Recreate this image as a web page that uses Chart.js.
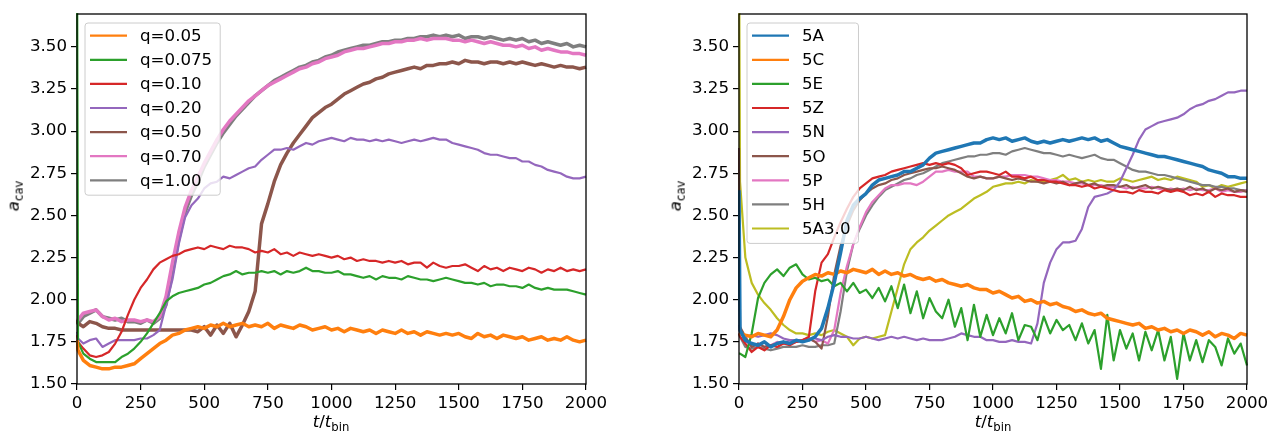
<!DOCTYPE html>
<html lang="en">
<head>
<meta charset="UTF-8" />
<title>Cavity size vs time</title>
<script src="https://cdn.jsdelivr.net/npm/chart.js"></script>
<style>
  body {
    margin: 0;
    background: #fff;
    width: 1284px;
    height: 436px;
    position: relative;
    overflow: hidden;
    font-family: "DejaVu Sans", sans-serif;
  }
  canvas { position: absolute; top: 0; }
  #left { left: 0; }
  #right { left: 642px; }
  .ylab, .xlab {
    position: absolute;
    font-size: 16.67px;
    color: #000;
    white-space: nowrap;
    line-height: 1;
  }
  .ylab { transform: translate(-50%, -50%) rotate(-90deg); }
  .xlab { transform: translateX(-50%); }
  sub { font-size: 70%; vertical-align: -0.3em; line-height: 0; }
</style>
</head>
<body>
  <canvas id="left" width="642" height="436"></canvas>
  <canvas id="right" width="642" height="436"></canvas>
  <div class="ylab" style="left:14px;top:196px"><i>a</i><sub>cav</sub></div>
  <div class="ylab" style="left:676px;top:196px"><i>a</i><sub>cav</sub></div>
  <div class="xlab" style="left:331px;top:414px"><i>t</i>/<i>t</i><sub>bin</sub></div>
  <div class="xlab" style="left:993px;top:414px"><i>t</i>/<i>t</i><sub>bin</sub></div>

<script>
// time samples (t / t_bin)
const tGrid = [0, 4, 25, 50, 75, 100, 125, 150, 175, 200,
  225, 250, 275, 300, 325, 350, 375, 400, 425, 450,
  475, 500, 525, 550, 575, 600, 625, 650, 675, 700,
  725, 750, 775, 800, 825, 850, 875, 900, 925, 950,
  975, 1000, 1025, 1050, 1075, 1100, 1125, 1150, 1175, 1200,
  1225, 1250, 1275, 1300, 1325, 1350, 1375, 1400, 1425, 1450,
  1475, 1500, 1525, 1550, 1575, 1600, 1625, 1650, 1675, 1700,
  1725, 1750, 1775, 1800, 1825, 1850, 1875, 1900, 1925, 1950,
  1975, 2000];

const xTicks = [0, 250, 500, 750, 1000, 1250, 1500, 1750, 2000];
const yTicks = [1.5, 1.75, 2.0, 2.25, 2.5, 2.75, 3.0, 3.25, 3.5];

// ---- left panel: mass ratio q ----
const qLabels = ['q=0.05', 'q=0.075', 'q=0.10', 'q=0.20', 'q=0.50', 'q=0.70', 'q=1.00'];

const q005 = [1.76, 1.70, 1.64, 1.61, 1.60, 1.59, 1.59, 1.60, 1.60, 1.61,
  1.62, 1.65, 1.68, 1.71, 1.74, 1.76, 1.79, 1.80, 1.82, 1.83,
  1.84, 1.83, 1.85, 1.84, 1.86, 1.84, 1.85, 1.86, 1.84, 1.85,
  1.84, 1.86, 1.83, 1.85, 1.84, 1.83, 1.85, 1.84, 1.82, 1.83,
  1.84, 1.82, 1.83, 1.81, 1.83, 1.82, 1.81, 1.82, 1.80, 1.82,
  1.81, 1.80, 1.82, 1.80, 1.81, 1.79, 1.81, 1.80, 1.79, 1.80,
  1.79, 1.80, 1.78, 1.77, 1.80, 1.78, 1.79, 1.77, 1.79, 1.78,
  1.77, 1.78, 1.76, 1.77, 1.78, 1.76, 1.77, 1.76, 1.78, 1.76,
  1.75, 1.76];

const q0075 = [4.20, 1.75, 1.68, 1.65, 1.63, 1.63, 1.63, 1.63, 1.66, 1.68,
  1.71, 1.75, 1.80, 1.86, 1.92, 1.99, 2.02, 2.04, 2.05, 2.06,
  2.07, 2.09, 2.10, 2.12, 2.14, 2.15, 2.17, 2.15, 2.16, 2.16,
  2.17, 2.16, 2.17, 2.15, 2.17, 2.16, 2.17, 2.19, 2.17, 2.17,
  2.16, 2.16, 2.17, 2.15, 2.15, 2.14, 2.13, 2.14, 2.12, 2.14,
  2.13, 2.13, 2.12, 2.14, 2.13, 2.12, 2.12, 2.11, 2.12, 2.13,
  2.12, 2.11, 2.10, 2.10, 2.09, 2.10, 2.08, 2.09, 2.09, 2.08,
  2.08, 2.07, 2.09, 2.07, 2.06, 2.07, 2.06, 2.06, 2.06, 2.05,
  2.04, 2.03];

const q010 = [1.79, 1.75, 1.71, 1.67, 1.66, 1.67, 1.69, 1.74, 1.81, 1.91,
  2.00, 2.07, 2.12, 2.18, 2.22, 2.24, 2.26, 2.27, 2.29, 2.30,
  2.31, 2.30, 2.32, 2.31, 2.30, 2.32, 2.31, 2.31, 2.30, 2.28,
  2.29, 2.28, 2.30, 2.27, 2.28, 2.26, 2.28, 2.27, 2.26, 2.27,
  2.26, 2.25, 2.26, 2.24, 2.25, 2.23, 2.24, 2.23, 2.23, 2.22,
  2.23, 2.22, 2.23, 2.21, 2.22, 2.22, 2.19, 2.22, 2.20, 2.19,
  2.20, 2.20, 2.21, 2.19, 2.17, 2.20, 2.18, 2.19, 2.17, 2.19,
  2.18, 2.17, 2.19, 2.18, 2.16, 2.18, 2.17, 2.19, 2.17, 2.18,
  2.17, 2.18];

const q020 = [1.81, 1.77, 1.74, 1.76, 1.77, 1.72, 1.74, 1.76, 1.76, 1.76,
  1.76, 1.77, 1.77, 1.79, 1.82, 1.97, 2.12, 2.33, 2.49, 2.56,
  2.60, 2.66, 2.69, 2.70, 2.73, 2.72, 2.74, 2.76, 2.78, 2.79,
  2.83, 2.86, 2.89, 2.89, 2.90, 2.89, 2.91, 2.93, 2.92, 2.94,
  2.95, 2.96, 2.95, 2.94, 2.96, 2.95, 2.95, 2.94, 2.95, 2.94,
  2.95, 2.94, 2.93, 2.94, 2.95, 2.94, 2.95, 2.96, 2.95, 2.95,
  2.93, 2.92, 2.91, 2.90, 2.89, 2.87, 2.86, 2.86, 2.85, 2.84,
  2.84, 2.82, 2.82, 2.80, 2.79, 2.77, 2.76, 2.75, 2.73, 2.72,
  2.72, 2.73];

const q050 = [1.88, 1.86, 1.84, 1.87, 1.86, 1.84, 1.83, 1.83, 1.82, 1.82,
  1.82, 1.82, 1.82, 1.82, 1.82, 1.82, 1.82, 1.82, 1.82, 1.82,
  1.81, 1.84, 1.79, 1.85, 1.80, 1.86, 1.78, 1.85, 1.93, 2.05,
  2.45, 2.57, 2.70, 2.80, 2.87, 2.93, 2.98, 3.03, 3.08, 3.11,
  3.14, 3.16, 3.19, 3.22, 3.24, 3.26, 3.28, 3.29, 3.31, 3.32,
  3.34, 3.35, 3.36, 3.37, 3.38, 3.37, 3.39, 3.39, 3.40, 3.40,
  3.41, 3.40, 3.42, 3.41, 3.41, 3.40, 3.41, 3.41, 3.40, 3.41,
  3.40, 3.41, 3.40, 3.39, 3.40, 3.39, 3.38, 3.39, 3.38, 3.38,
  3.37, 3.38];

const q070 = [1.87, 1.88, 1.92, 1.93, 1.94, 1.90, 1.88, 1.89, 1.87, 1.88,
  1.88, 1.87, 1.88, 1.87, 1.90, 2.02, 2.22, 2.40, 2.55, 2.65,
  2.73, 2.81, 2.88, 2.95, 3.01, 3.06, 3.10, 3.14, 3.18, 3.21,
  3.24, 3.27, 3.29, 3.31, 3.33, 3.35, 3.37, 3.38, 3.40, 3.41,
  3.43, 3.44, 3.45, 3.47, 3.48, 3.49, 3.49, 3.50, 3.51, 3.52,
  3.52, 3.53, 3.53, 3.54, 3.54, 3.55, 3.54, 3.55, 3.55, 3.55,
  3.54, 3.54, 3.53, 3.54, 3.53, 3.52, 3.53, 3.52, 3.51, 3.51,
  3.50, 3.51, 3.49, 3.50, 3.48, 3.49, 3.48, 3.47, 3.47, 3.46,
  3.46, 3.45];

const q100 = [1.87, 1.86, 1.90, 1.92, 1.94, 1.90, 1.89, 1.88, 1.89, 1.87,
  1.87, 1.86, 1.88, 1.86, 1.89, 1.97, 2.16, 2.36, 2.52, 2.62,
  2.70, 2.79, 2.86, 2.93, 2.99, 3.04, 3.09, 3.13, 3.17, 3.21,
  3.24, 3.27, 3.30, 3.32, 3.34, 3.36, 3.38, 3.39, 3.41, 3.42,
  3.44, 3.45, 3.47, 3.48, 3.49, 3.50, 3.51, 3.51, 3.52, 3.53,
  3.53, 3.54, 3.54, 3.55, 3.55, 3.56, 3.56, 3.57, 3.56, 3.57,
  3.56, 3.57, 3.55, 3.56, 3.56, 3.55, 3.56, 3.55, 3.54, 3.55,
  3.54, 3.55, 3.53, 3.54, 3.52, 3.53, 3.52, 3.51, 3.52, 3.50,
  3.51, 3.50];

// ---- right panel: runs ----
const runLabels = ['5A', '5C', '5E', '5Z', '5N', '5O', '5P', '5H', '5A3.0'];

const r5A = [2.65, 1.82, 1.76, 1.74, 1.73, 1.75, 1.72, 1.74, 1.75, 1.74,
  1.76, 1.75, 1.76, 1.78, 1.83, 1.95, 2.10, 2.28, 2.47, 2.56,
  2.60, 2.63, 2.68, 2.71, 2.72, 2.73, 2.74, 2.76, 2.76, 2.78,
  2.80, 2.84, 2.87, 2.88, 2.89, 2.90, 2.91, 2.92, 2.93, 2.93,
  2.95, 2.96, 2.95, 2.96, 2.94, 2.95, 2.96, 2.94, 2.93, 2.94,
  2.93, 2.94, 2.95, 2.94, 2.95, 2.96, 2.95, 2.96, 2.94, 2.95,
  2.93, 2.91, 2.90, 2.89, 2.88, 2.87, 2.86, 2.85, 2.85, 2.84,
  2.83, 2.82, 2.81, 2.80, 2.79, 2.77, 2.76, 2.75, 2.73, 2.73,
  2.72, 2.72];

const r5C = [1.80, 1.80, 1.79, 1.78, 1.80, 1.79, 1.78, 1.82, 1.90, 2.00,
  2.07, 2.11, 2.13, 2.15, 2.14, 2.16, 2.15, 2.17, 2.16, 2.18,
  2.17, 2.16, 2.18, 2.15, 2.17, 2.15, 2.16, 2.14, 2.15, 2.13,
  2.12, 2.13, 2.11, 2.12, 2.10, 2.09, 2.08, 2.09, 2.07, 2.06,
  2.06, 2.04, 2.05, 2.03, 2.01, 2.02, 1.99, 2.00, 1.98, 1.99,
  1.97, 1.98, 1.96, 1.95, 1.93, 1.94, 1.92, 1.91, 1.92, 1.89,
  1.88, 1.87, 1.86, 1.85, 1.86, 1.83, 1.84, 1.82, 1.83, 1.81,
  1.82, 1.80, 1.82, 1.81, 1.79, 1.81, 1.78, 1.80, 1.79, 1.77,
  1.80, 1.79];

const r5E = [1.68, 1.68, 1.66, 1.80, 2.01, 2.10, 2.15, 2.18, 2.14, 2.19,
  2.21, 2.15, 2.12, 2.13, 2.11, 2.12, 2.08, 2.10, 2.05, 2.10,
  2.04, 2.06, 2.01, 2.07, 1.99, 2.08, 1.95, 2.09, 1.92, 2.05,
  1.89, 2.01, 1.93, 1.89, 2.00, 1.84, 1.95, 1.76, 1.97, 1.78,
  1.91, 1.79, 1.89, 1.80, 1.92, 1.76, 1.85, 1.84, 1.76, 1.90,
  1.80, 1.88, 1.82, 1.85, 1.76, 1.86, 1.74, 1.82, 1.59, 1.91,
  1.64, 1.82, 1.71, 1.80, 1.64, 1.81, 1.70, 1.82, 1.64, 1.78,
  1.53, 1.80, 1.64, 1.76, 1.63, 1.76, 1.72, 1.61, 1.77, 1.68,
  1.74, 1.61];

const r5Z = [1.80, 1.78, 1.74, 1.69, 1.72, 1.70, 1.73, 1.72, 1.74, 1.73,
  1.75, 1.76, 1.78, 2.05, 2.22, 2.27, 2.37, 2.46, 2.54, 2.61,
  2.66, 2.69, 2.72, 2.73, 2.74, 2.76, 2.77, 2.78, 2.79, 2.80,
  2.81, 2.80, 2.81, 2.80, 2.81, 2.80, 2.78, 2.74, 2.75, 2.76,
  2.76, 2.75, 2.74, 2.76, 2.73, 2.73, 2.72, 2.73, 2.71, 2.71,
  2.70, 2.70, 2.69, 2.68, 2.68, 2.67, 2.68, 2.66, 2.67, 2.66,
  2.65, 2.64, 2.64, 2.63, 2.65, 2.64, 2.64, 2.63, 2.65, 2.64,
  2.65, 2.64, 2.62, 2.63, 2.62, 2.64, 2.61, 2.63, 2.62, 2.62,
  2.61, 2.61];

const r5N = [1.85, 1.80, 1.78, 1.79, 1.78, 1.79, 1.80, 1.79, 1.77, 1.76,
  1.76, 1.76, 1.77, 1.77, 1.76, 1.78, 1.79, 1.78, 1.78, 1.77,
  1.77, 1.78, 1.77, 1.76, 1.77, 1.78, 1.77, 1.78, 1.77, 1.76,
  1.77, 1.76, 1.76, 1.76, 1.77, 1.78, 1.80, 1.79, 1.78, 1.78,
  1.76, 1.76, 1.75, 1.75, 1.76, 1.75, 1.75, 1.74, 1.86, 2.10,
  2.22, 2.30, 2.34, 2.34, 2.35, 2.42, 2.55, 2.61, 2.62, 2.63,
  2.65, 2.70, 2.78, 2.86, 2.95, 3.01, 3.03, 3.05, 3.06, 3.07,
  3.08, 3.10, 3.13, 3.15, 3.16, 3.18, 3.19, 3.21, 3.23, 3.23,
  3.24, 3.24];

const r5O = [2.90, 1.84, 1.78, 1.72, 1.74, 1.72, 1.73, 1.74, 1.75, 1.74,
  1.75, 1.76, 1.77, 1.75, 1.71, 1.90, 2.15, 2.32, 2.44, 2.53,
  2.59, 2.63, 2.66, 2.68, 2.69, 2.71, 2.72, 2.74, 2.75, 2.76,
  2.77, 2.78, 2.78, 2.79, 2.78, 2.77, 2.75, 2.73, 2.72, 2.73,
  2.72, 2.72, 2.73, 2.72, 2.71, 2.72, 2.71, 2.70, 2.70, 2.69,
  2.70, 2.69, 2.70, 2.68, 2.69, 2.70, 2.68, 2.69, 2.67, 2.68,
  2.68, 2.67, 2.68, 2.66, 2.67, 2.68, 2.66, 2.67, 2.66, 2.65,
  2.66, 2.65, 2.67, 2.65, 2.66, 2.64, 2.66, 2.65, 2.66, 2.64,
  2.65, 2.64];

const r5P = [2.60, 1.82, 1.76, 1.72, 1.74, 1.72, 1.73, 1.75, 1.74, 1.76,
  1.75, 1.76, 1.77, 1.75, 1.76, 1.74, 1.82, 2.04, 2.20, 2.33,
  2.43, 2.52, 2.58, 2.62, 2.66, 2.68, 2.68, 2.69, 2.69, 2.68,
  2.70, 2.73, 2.76, 2.76, 2.77, 2.76, 2.76, 2.76, 2.73, 2.73,
  2.72, 2.72, 2.73, 2.73, 2.74, 2.74, 2.74, 2.73, 2.73, 2.72,
  2.71, 2.71, 2.70, 2.70, 2.69, 2.69, 2.68, 2.68, 2.68, 2.67,
  2.67, 2.67, 2.66, 2.67, 2.66, 2.66, 2.67, 2.66, 2.65, 2.66,
  2.65, 2.66, 2.65, 2.66, 2.65, 2.65, 2.66, 2.64, 2.65, 2.64,
  2.64, 2.65];

const r5H = [1.80, 1.78, 1.72, 1.71, 1.72, 1.71, 1.70, 1.71, 1.72, 1.72,
  1.72, 1.73, 1.72, 1.72, 1.73, 1.73, 1.74, 1.93, 2.17, 2.33,
  2.42, 2.50, 2.56, 2.61, 2.65, 2.67, 2.69, 2.71, 2.72, 2.74,
  2.75, 2.77, 2.79, 2.81, 2.82, 2.83, 2.84, 2.85, 2.85, 2.86,
  2.86, 2.87, 2.87, 2.86, 2.88, 2.89, 2.90, 2.89, 2.88, 2.87,
  2.87, 2.86, 2.85, 2.86, 2.85, 2.84, 2.85, 2.86, 2.84, 2.83,
  2.83, 2.81, 2.79, 2.77, 2.76, 2.76, 2.75, 2.74, 2.74, 2.73,
  2.72, 2.71, 2.70, 2.69, 2.68, 2.68, 2.67, 2.67, 2.66, 2.66,
  2.65, 2.65];

const r5A30 = [4.20, 2.70, 2.25, 2.10, 2.03, 1.98, 1.94, 1.89, 1.85, 1.82,
  1.80, 1.80, 1.79, 1.80, 1.79, 1.81, 1.82, 1.80, 1.78, 1.73,
  1.77, 1.78, 1.77, 1.78, 1.79, 1.93, 2.07, 2.21, 2.30, 2.34,
  2.37, 2.41, 2.44, 2.47, 2.50, 2.52, 2.54, 2.57, 2.60, 2.62,
  2.64, 2.67, 2.68, 2.69, 2.69, 2.70, 2.69, 2.71, 2.70, 2.70,
  2.71, 2.72, 2.74, 2.71, 2.72, 2.70, 2.71, 2.70, 2.71, 2.70,
  2.70, 2.72, 2.71, 2.70, 2.71, 2.72, 2.73, 2.71, 2.72, 2.71,
  2.73, 2.72, 2.71, 2.70, 2.67, 2.68, 2.66, 2.68, 2.67, 2.68,
  2.69, 2.70];

const leftSeries = [q005, q0075, q010, q020, q050, q070, q100];
const leftColors = ['#ff7f0e', '#2ca02c', '#d62728', '#9467bd', '#8c564b', '#e377c2', '#7f7f7f'];
const leftWidths = [3.5, 2.2, 2.2, 2.2, 3.5, 3.5, 3.5];

const rightSeries = [r5A, r5C, r5E, r5Z, r5N, r5O, r5P, r5H, r5A30];
const rightColors = ['#1f77b4', '#ff7f0e', '#2ca02c', '#d62728', '#9467bd', '#8c564b', '#e377c2', '#7f7f7f', '#bcbd22'];
const rightWidths = [3.5, 3.5, 2.2, 2.2, 2.2, 2.2, 2.2, 2.2, 2.2];

const FONT = '"DejaVu Sans", sans-serif';

// full box around the axes, like matplotlib spines
const frame = {
  id: 'frame',
  afterDatasetsDraw(chart) {
    const a = chart.chartArea, ctx = chart.ctx;
    ctx.save();
    ctx.strokeStyle = '#000';
    ctx.lineWidth = 1.3;
    ctx.strokeRect(a.left, a.top, a.right - a.left, a.bottom - a.top);
    ctx.restore();
  }
};

// legend in the upper left corner, inside the axes
const boxLegend = {
  id: 'boxLegend',
  afterDraw(chart) {
    const ctx = chart.ctx, a = chart.chartArea;
    const ds = chart.data.datasets;
    ctx.save();
    ctx.font = '16.67px ' + FONT;
    let tw = 0;
    ds.forEach(d => { tw = Math.max(tw, ctx.measureText(d.label).width); });
    const x0 = a.left + 8, y0 = a.top + 9;
    const w = 55 + tw + 8, h = ds.length * 24.1 + 3.5;
    ctx.beginPath();
    ctx.roundRect(x0, y0, w, h, 3);
    ctx.fillStyle = 'rgba(255,255,255,0.8)';
    ctx.fill();
    ctx.strokeStyle = '#cccccc';
    ctx.lineWidth = 1;
    ctx.stroke();
    ds.forEach((d, i) => {
      const cy = y0 + 12.7 + i * 24.1;
      ctx.beginPath();
      ctx.moveTo(x0 + 5, cy);
      ctx.lineTo(x0 + 42, cy);
      ctx.strokeStyle = d.borderColor;
      ctx.lineWidth = 2.2;
      ctx.stroke();
      ctx.fillStyle = '#000';
      ctx.textBaseline = 'middle';
      ctx.textAlign = 'left';
      ctx.fillText(d.label, x0 + 55, cy + 1);
    });
    ctx.restore();
  }
};

function makeChart(id, labels, series, colors, widths, yAxisW, padRight) {
  const datasets = series.map((vals, i) => ({
    label: labels[i],
    data: tGrid.map((t, k) => ({ x: t, y: vals[k] })),
    borderColor: colors[i],
    backgroundColor: colors[i],
    borderWidth: widths[i],
    borderJoinStyle: 'round',
    pointRadius: 0,
    tension: 0,
    fill: false,
    clip: 1
  }));
  const tickStyle = { color: '#000', font: { family: FONT, size: 16.67 }, padding: 4 };
  return new Chart(document.getElementById(id), {
    type: 'line',
    data: { datasets },
    options: {
      responsive: false,
      animation: false,
      devicePixelRatio: 1,
      layout: { padding: { left: 0, right: padRight, top: 5, bottom: 0 } },
      plugins: { legend: { display: false }, tooltip: { enabled: false } },
      scales: {
        x: {
          type: 'linear',
          min: 0,
          max: 2000,
          afterBuildTicks: s => { s.ticks = xTicks.map(v => ({ value: v })); },
          afterFit: s => { s.height = 52; },
          ticks: Object.assign({ autoSkip: false, maxRotation: 0, callback: v => String(v) }, tickStyle),
          grid: { drawOnChartArea: false, drawTicks: true, tickLength: 6, color: '#000', lineWidth: 1.2 },
          border: { display: false }
        },
        y: {
          type: 'linear',
          min: 1.5,
          max: 3.695,
          afterBuildTicks: s => { s.ticks = yTicks.map(v => ({ value: v })); },
          afterFit: s => { s.width = yAxisW; },
          ticks: Object.assign({ callback: v => v.toFixed(2) }, tickStyle),
          grid: { drawOnChartArea: false, drawTicks: true, tickLength: 6, color: '#000', lineWidth: 1.2 },
          border: { display: false }
        }
      }
    },
    plugins: [frame, boxLegend]
  });
}

makeChart('left', qLabels, leftSeries, leftColors, leftWidths, 77, 56);
makeChart('right', runLabels, rightSeries, rightColors, rightWidths, 97, 37);
</script>
</body>
</html>
